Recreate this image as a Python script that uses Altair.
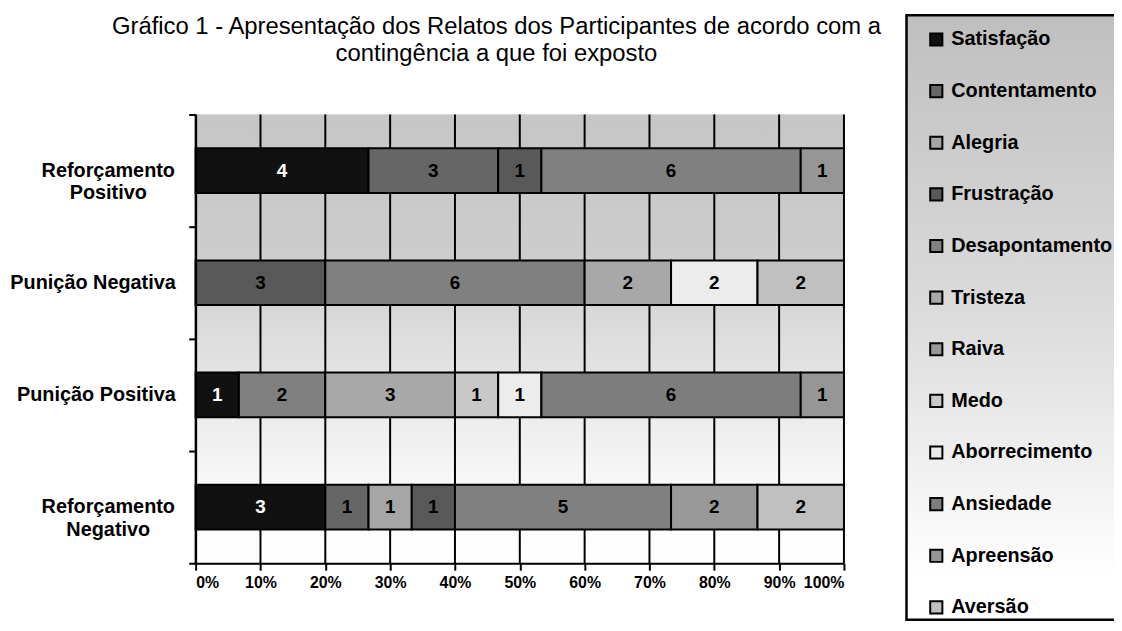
import altair as alt
import pandas as pd

categories = ["Reforçamento Positivo", "Punição Negativa", "Punição Positiva", "Reforçamento Negativo"]
cat_labels = ["Reforçamento\nPositivo", "Punição Negativa", "Punição Positiva", "Reforçamento\nNegativo"]
emotions = ["Satisfação", "Contentamento", "Alegria", "Frustração", "Desapontamento", "Tristeza",
            "Raiva", "Medo", "Aborrecimento", "Ansiedade", "Apreensão", "Aversão"]
colors = ["#111111", "#666666", "#a6a6a6", "#595959", "#808080", "#a8a8a8",
          "#999999", "#c8c8c8", "#ececec", "#7d7d7d", "#969696", "#c0c0c0"]

# counts per emotion, in the order of `categories`
satisfacao = [4, 0, 1, 3]
contentamento = [3, 0, 0, 1]
alegria = [0, 0, 0, 1]
frustracao = [1, 3, 0, 1]
desapontamento = [6, 6, 2, 5]
tristeza = [0, 2, 3, 0]
raiva = [0, 0, 0, 2]
medo = [0, 0, 1, 0]
aborrecimento = [0, 2, 1, 0]
ansiedade = [0, 0, 6, 0]
apreensao = [1, 0, 1, 0]
aversao = [0, 2, 0, 2]
series = [satisfacao, contentamento, alegria, frustracao, desapontamento, tristeza,
          raiva, medo, aborrecimento, ansiedade, apreensao, aversao]

x_ticks = [0, 0.1, 0.2, 0.3, 0.4, 0.5, 0.6, 0.7, 0.8, 0.9, 1.0]

title_line1 = "Gráfico 1 - Apresentação dos Relatos dos Participantes de acordo com a"
title_line2 = "contingência a que foi exposto"

rows = []
for i, (emo, vals) in enumerate(zip(emotions, series)):
    for cat, v in zip(categories, vals):
        if v > 0:
            rows.append({"cat": cat, "emo": emo, "idx": i, "n": v,
                         "tc": "white" if emo == "Satisfação" else "black"})
df = pd.DataFrame(rows)

FONT = "Liberation Sans"
W, H = 653, 452

y_enc = alt.Y("cat:N", sort=categories, title=None,
              scale=alt.Scale(domain=categories, paddingInner=0, paddingOuter=0),
              axis=alt.Axis(labels=False, tickBand="extent", domainColor="black", domainWidth=2,
                            tickColor="black", tickWidth=2, tickSize=7, grid=False, zindex=1))

x_axis = alt.Axis(values=x_ticks, format=".0%", grid=False, domainColor="black", domainWidth=2,
                  tickColor="black", tickWidth=2, tickSize=7, labelFont=FONT, labelFontSize=16,
                  labelFontWeight="bold", labelColor="black", labelPadding=4, zindex=1)
x_scale = alt.Scale(domain=[0, 1], nice=False, zero=True)

bg_grad = {"gradient": "linear", "x1": 0, "x2": 0, "y1": 0, "y2": 1,
           "stops": [{"offset": 0, "color": "#c6c6c6"}, {"offset": 0.3, "color": "#cccccc"},
                     {"offset": 0.6, "color": "#e6e6e6"}, {"offset": 0.85, "color": "#fafafa"},
                     {"offset": 1, "color": "#ffffff"}]}
leg_grad = {"gradient": "linear", "x1": 0, "x2": 0, "y1": 0, "y2": 1,
            "stops": [{"offset": 0, "color": "#bfbfbf"}, {"offset": 0.5, "color": "#dcdcdc"},
                      {"offset": 0.93, "color": "#ffffff"}, {"offset": 1, "color": "#ffffff"}]}

one = pd.DataFrame({"a": [0]})
bg = alt.Chart(one).mark_rect(fill=bg_grad).encode(
    x=alt.value(0), x2=alt.value(W), y=alt.value(0), y2=alt.value(H))
legbg = alt.Chart(one).mark_rect(fill=leg_grad, stroke="black", strokeWidth=2.5, clip=False).encode(
    x=alt.value(716), x2=alt.value(960), y=alt.value(-100), y2=alt.value(509))

t1 = alt.Chart(pd.DataFrame({"t": [title_line1]})).mark_text(
    font=FONT, fontSize=24, color="black", align="center", baseline="middle").encode(
    x=alt.value(303), y=alt.value(-88), text="t:N")
t2 = alt.Chart(pd.DataFrame({"t": [title_line2]})).mark_text(
    font=FONT, fontSize=24, color="black", align="center", baseline="middle").encode(
    x=alt.value(303), y=alt.value(-61), text="t:N")

grid = alt.Chart(pd.DataFrame({"t": x_ticks})).mark_rule(color="black", strokeWidth=2).encode(
    x=alt.X("t:Q", scale=x_scale, axis=x_axis, title=None),
    y=alt.value(0), y2=alt.value(H))

stacked = alt.Chart(df).transform_stack(
    stack="n", as_=["s0", "s1"], groupby=["cat"],
    sort=[alt.SortField("idx", order="ascending")], offset="normalize"
)

bars = stacked.mark_bar(stroke="black", strokeWidth=2, size=45).encode(
    x=alt.X("s0:Q", scale=x_scale, axis=x_axis, title=None),
    x2="s1:Q",
    y=y_enc,
    color=alt.Color("emo:N", scale=alt.Scale(domain=emotions, range=colors),
                    legend=alt.Legend(title=None, orient="none", legendX=736, legendY=-85.5,
                                      symbolType="square", symbolSize=150, symbolStrokeColor="black",
                                      symbolStrokeWidth=2, labelFont=FONT, labelFontSize=20,
                                      labelFontWeight="bold", labelColor="black", rowPadding=30,
                                      padding=0, labelOffset=5, labelLimit=400)),
)

labels = stacked.transform_calculate(mid="(datum.s0 + datum.s1) / 2").mark_text(
    font=FONT, fontSize=19, fontWeight="bold", baseline="middle", align="center").encode(
    x=alt.X("mid:Q", scale=x_scale, axis=x_axis, title=None),
    y=y_enc,
    text="n:Q",
    color=alt.Color("tc:N", scale=None, legend=None),
)

lab_df = pd.DataFrame({"cat": categories, "lab": cat_labels,
                       "two": [("\n" in s) for s in cat_labels]})
ylab2 = alt.Chart(lab_df).transform_filter("datum.two").mark_text(
    font=FONT, fontSize=20, fontWeight="bold", align="center", baseline="middle",
    lineBreak="\n", lineHeight=23, color="black").encode(
    x=alt.value(-88), y=y_enc, text="lab:N")
ylab1 = alt.Chart(lab_df).transform_filter("!datum.two").mark_text(
    font=FONT, fontSize=20, fontWeight="bold", align="right", baseline="middle",
    color="black").encode(
    x=alt.value(-20), y=y_enc, text="lab:N")

chart = alt.layer(bg, legbg, grid, bars, labels, ylab2, ylab1, t1, t2).properties(
    width=W, height=H,
    autosize=alt.AutoSizeParams(type="none"),
    padding={"left": 189, "top": 105, "right": 272, "bottom": 66},
).configure_view(stroke=None).configure(font=FONT)

chart.save("out.html", embed_options={"renderer": "svg", "actions": False})
